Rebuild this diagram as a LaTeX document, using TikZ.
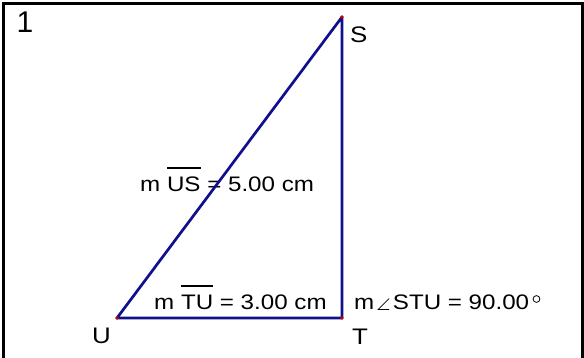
\documentclass[tikz,border=0pt]{standalone}
\usepackage{fontspec}
\setmainfont{Liberation Sans}
\newfontfamily\lblfont{Liberation Sans}[FakeStretch=1.15]
\definecolor{segblue}{RGB}{16,16,140}
\definecolor{dotred}{RGB}{200,0,0}
\newcommand\ovl[1]{\leavevmode\vbox{\hrule height 1.4pt\kern 8.5pt\hbox{#1}}}
\newcommand\angsym{\tikz[baseline=0pt]\draw[line width=0.6pt] (11pt,11pt) -- (0pt,0pt) -- (11pt,0pt);}
\newcommand\degsym{\tikz[baseline=0pt]\draw[line width=0.8pt] (3.6pt,10.5pt) circle[radius=3.4pt];}
\tikzset{
  seg/.style={draw=segblue, line width=2.7pt, line join=round, line cap=round},
  frame/.style={draw=black, line width=3pt},
  lbl/.style={inner sep=0pt, anchor=base west, font=\lblfont\fontsize{21pt}{25pt}\selectfont},
  vlbl/.style={inner sep=0pt, anchor=base west, font=\lblfont\fontsize{22.5pt}{26pt}\selectfont},
  numlbl/.style={inner sep=0pt, anchor=base west, font=\fontsize{30pt}{35pt}\selectfont},
  vdot/.style={fill=dotred}
}
\begin{document}
\begin{tikzpicture}[x=1pt,y=-1pt]
\useasboundingbox (0,0) rectangle (584,358);
\fill[white] (0,0) rectangle (584,358);
\coordinate (fbl) at (3.3,358);
\coordinate (ftl) at (3.3,3.3);
\coordinate (ftr) at (582.5,3.3);
\coordinate (fbr) at (582.5,358);
\draw[frame] (fbl) -- (ftl) -- (ftr) -- (fbr);
\node[numlbl] (num) at (16.5,33) {1};
\coordinate (S) at (342,17);
\coordinate (T) at (342,318);
\coordinate (U) at (117,318);
\node[lbl] (lUS) at (140,192) {m \ovl{US} = 5.00 cm};
\node[lbl] (lTU) at (154,309.5) {m \ovl{TU} = 3.00 cm};
\node[lbl] (lang) at (354,309.5) {m\,\angsym\,STU = 90.00\,\degsym};
\draw[seg] (U) -- (S) -- (T) -- cycle;
\fill[vdot] (S) circle (1.9);
\fill[vdot] (T) circle (1.9);
\fill[vdot] (U) circle (1.9);
\node[vlbl] (lS) at (350,43) {S};
\node[vlbl] (lU) at (92,343.5) {U};
\node[vlbl] (lT) at (352,344) {T};
\end{tikzpicture}
\end{document}
